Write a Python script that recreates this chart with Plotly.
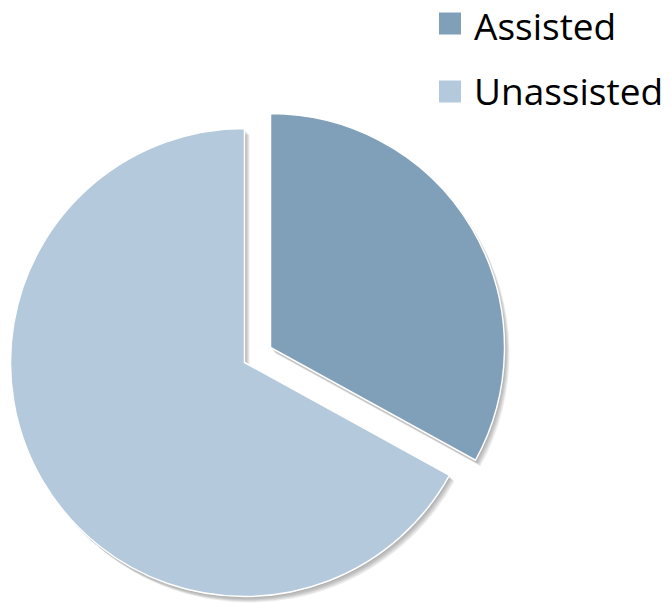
import plotly.graph_objects as go

# Share of requests
labels = ["Assisted", "Unassisted"]
values = [33, 67]
colors = ["#809FB9", "#B4CADC"]

W, H = 671, 605
R = 234                 # pie radius in px
CX, CY = 244.5, 362.5   # centre of the pie in px (from top-left)
PULL = [(26, -15), (0, 0)]  # exploded offset of each slice in px
SHADOW_STEPS = [(1, 1.5), (2, 3), (3, 4), (4, 5), (5, 6)]


def domain(cx, cy, r):
    return dict(x=[(cx - r) / W, (cx + r) / W],
                y=[1 - (cy + r) / H, 1 - (cy - r) / H])


def slice_trace(idx, dx, dy, fill, line_w):
    cols = ["rgba(0,0,0,0)"] * len(values)
    cols[idx] = fill
    widths = [0] * len(values)
    widths[idx] = line_w
    return go.Pie(
        labels=labels, values=values, sort=False, direction="clockwise",
        rotation=0, domain=domain(CX + dx, CY + dy, R),
        marker=dict(colors=cols, line=dict(color="white", width=widths)),
        textinfo="none", hoverinfo="skip", showlegend=False,
    )


fig = go.Figure()
# draw the large slice first, then the exploded one on top
for idx in [1, 0]:
    pdx, pdy = PULL[idx]
    for sx, sy in reversed(SHADOW_STEPS):
        fig.add_trace(slice_trace(idx, pdx + sx, pdy + sy, "rgba(0,0,0,0.07)", 0))
    fig.add_trace(slice_trace(idx, pdx, pdy, colors[idx], 1.5))

# legend: colour key squares with labels
shapes, annotations = [], []
key_x0, key_size = 439, 22
label_x = 472
key_y = [23.5, 91.5]
text_y = [25.5, 90.5]
for lab, col, ky, ty in zip(labels, colors, key_y, text_y):
    shapes.append(dict(
        type="rect", xref="paper", yref="paper",
        x0=key_x0 / W, x1=(key_x0 + key_size) / W,
        y0=1 - (ky + key_size / 2) / H, y1=1 - (ky - key_size / 2) / H,
        fillcolor=col, line=dict(width=0),
    ))
    annotations.append(dict(
        text=lab, xref="paper", yref="paper",
        x=label_x / W, y=1 - ty / H, xanchor="left", yanchor="middle",
        showarrow=False, font=dict(family="Open Sans", size=37, color="#000000"),
    ))

fig.update_layout(
    width=W, height=H, autosize=False,
    margin=dict(l=0, r=0, t=0, b=0, pad=0),
    paper_bgcolor="white", plot_bgcolor="white",
    shapes=shapes, annotations=annotations,
)

fig.write_html("out.html")
